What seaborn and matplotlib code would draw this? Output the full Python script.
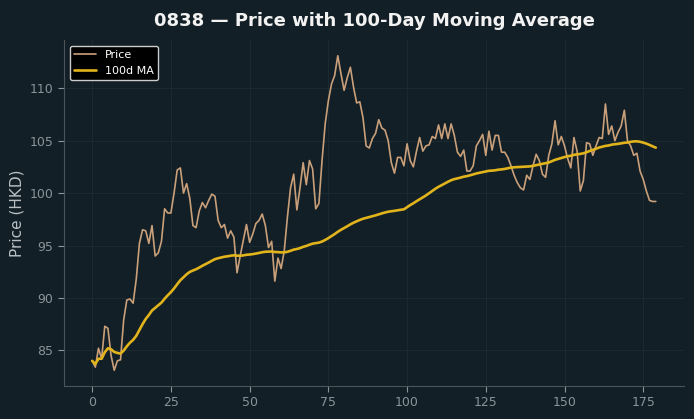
import numpy as np
import pandas as pd
import matplotlib
matplotlib.use("Agg")
import matplotlib.pyplot as plt
import seaborn as sns

# daily closing price (HKD)
price = [
    84.0, 83.4, 85.2, 84.2, 87.3, 87.1, 84.5, 83.1, 84.0, 84.1,
    87.9, 89.8, 89.9, 89.5, 91.8, 95.2, 96.5, 96.4, 95.2, 96.9,
    94.0, 94.3, 95.4, 98.5, 98.1, 98.1, 100.0, 102.2, 102.4, 100.0,
    100.9, 99.5, 96.9, 96.7, 98.3, 99.1, 98.6, 99.3, 99.9, 99.7,
    97.4, 96.7, 97.0, 95.7, 96.4, 95.8, 92.4, 94.0, 95.5, 97.0,
    95.3, 96.1, 97.1, 97.4, 98.0, 96.9, 94.8, 95.4, 91.6, 93.8,
    92.8, 94.5, 97.7, 100.5, 101.8, 98.4, 100.5, 102.9, 100.8, 103.1,
    102.3, 98.5, 99.0, 103.1, 106.6, 108.8, 110.4, 111.2, 113.1, 111.4,
    109.8, 111.0, 112.0, 110.1, 108.6, 108.7, 107.2, 104.5, 104.3, 105.2,
    105.7, 107.0, 106.2, 106.0, 105.0, 102.9, 101.9, 103.4, 103.4, 102.6,
    104.7, 103.1, 102.5, 104.0, 105.3, 104.0, 104.5, 104.6, 105.4, 105.2,
    106.5, 105.2, 106.6, 105.2, 106.6, 105.5, 103.9, 103.5, 104.1, 102.1,
    102.1, 102.6, 104.5, 105.0, 105.6, 103.6, 105.9, 104.1, 105.5, 105.5,
    103.9, 103.9, 103.4, 102.6, 101.7, 101.0, 100.5, 100.3, 101.7, 101.3,
    102.6, 103.7, 103.1, 101.8, 101.5, 103.6, 104.7, 106.9, 104.6, 105.4,
    104.5, 103.3, 102.4, 105.3, 104.0, 100.2, 101.2, 104.8, 104.7, 103.6,
    104.5, 105.3, 105.2, 108.5, 105.6, 106.4, 105.0, 105.8, 106.4, 107.9,
    105.0, 104.5, 103.6, 103.8, 102.1, 101.3, 100.2, 99.3, 99.2, 99.2,
]

bg = "#121f26"
df = pd.DataFrame({"day": np.arange(len(price)), "price": price})
df["ma100"] = df["price"].rolling(100, min_periods=1).mean()

sns.set_style("dark", {
    "axes.facecolor": bg, "figure.facecolor": bg,
    "axes.edgecolor": "#4a5459", "grid.color": "#1b2a30",
    "xtick.color": "#8a9499", "ytick.color": "#8a9499",
    "axes.labelcolor": "#b8c0c4", "text.color": "white",
    "xtick.bottom": True, "ytick.left": True,
})
plt.rcParams["font.family"] = ["DejaVu Sans"]

fig, ax = plt.subplots(figsize=(6.94, 4.19), dpi=100)
fig.subplots_adjust(left=64/694, right=684/694, top=1-40/419, bottom=1-386/419)

sns.lineplot(data=df, x="day", y="price", ax=ax, color="#c9a07a", linewidth=1.2, label="Price")
sns.lineplot(data=df, x="day", y="ma100", ax=ax, color="#e2b41c", linewidth=1.9, label="100d MA")

ax.set_title("0838 \u2014 Price with 100-Day Moving Average", fontsize=13, fontweight="bold", color="#f2f2f2", pad=10)
ax.set_xlabel("")
ax.set_ylabel("Price (HKD)", fontsize=11)
ax.tick_params(labelsize=9, length=4, color="#8a9499")
ax.grid(True, linewidth=0.8)
for s in ["top", "right"]:
    ax.spines[s].set_visible(False)

leg = ax.legend(loc="upper left", fontsize=8, facecolor="black", edgecolor="#cccccc", framealpha=1)
for t in leg.get_texts():
    t.set_color("white")

fig.savefig("out.png", dpi=100, facecolor=bg)
